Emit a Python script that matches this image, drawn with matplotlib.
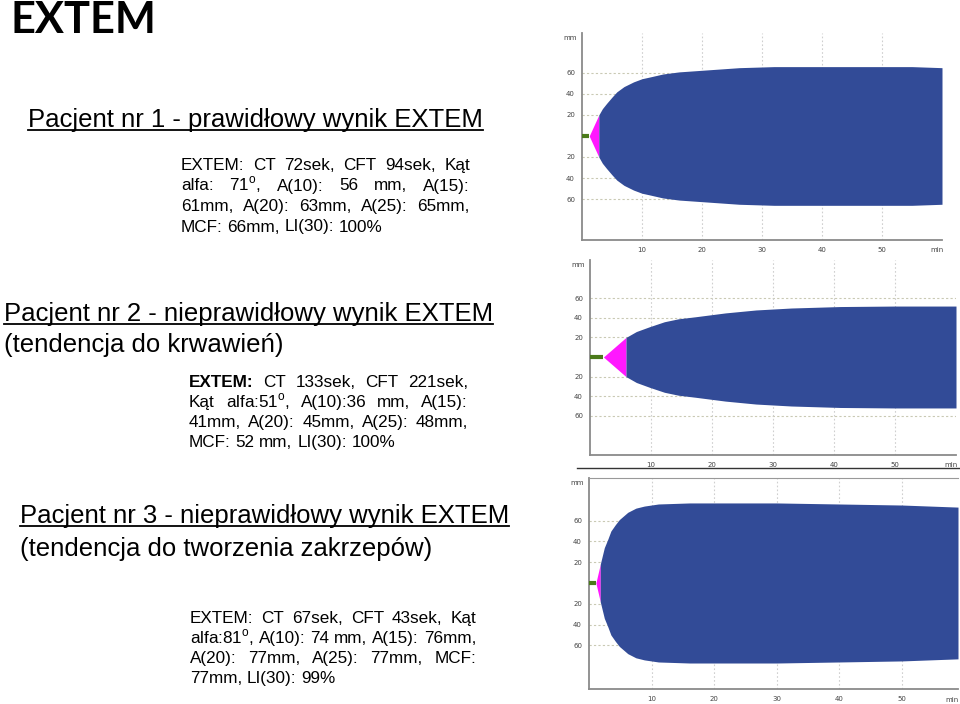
import matplotlib
matplotlib.use("Agg")
import numpy as np
import matplotlib.pyplot as plt

plt.rcParams["mathtext.fontset"] = "custom"
plt.rcParams["mathtext.rm"] = "Liberation Sans"

# --- chart data ---
# patient 1 - normal
p1_time = [0, 1.2, 2.8, 3.4, 4.1, 5.0, 5.8, 7.0, 8.6, 10, 11.2, 13.5, 16.2, 21.2, 26.2, 32, 45, 55, 60]
p1_amp = [0, 0, 20, 26, 31, 37, 42, 47, 51.5, 54.5, 56, 59, 61, 63, 65, 66, 66, 66, 65]
p1_ct, p1_pink_end = 1.2, 2.8

# patient 2 - bleeding tendency
p2_time = [0, 2.2, 5.9, 7.6, 9.8, 12.2, 14.5, 17.2, 22.2, 27.2, 33, 41, 50, 60]
p2_amp = [0, 0, 20, 26, 31, 36, 39, 41, 45, 48, 50, 51.5, 52, 52]
p2_ct, p2_pink_end = 2.2, 5.9

# patient 3 - clotting tendency
p3_time = [0, 1.1, 1.8, 2.45, 3.0, 3.5, 4.2, 4.85, 6.2, 7.5, 8.85, 11.1, 16.1, 21.1, 30, 40, 50, 59]
p3_amp = [0, 0, 18, 34, 42, 50, 56, 61, 68, 72, 74, 76, 77, 77, 77, 76, 75, 73]
p3_ct, p3_pink_end = 1.1, 1.8

x_ticks = [10, 20, 30, 40, 50]
y_ticks = [-60, -40, -20, 20, 40, 60]

BLUE = "#324b97"
PINK = "#ff18ff"
GREEN = "#4a7a1a"
BODY = "Liberation Sans"

fig = plt.figure(figsize=(9.6, 7.04), dpi=100)
bg = fig.add_axes([0, 0, 1, 1])
bg.set_xlim(0, 960)
bg.set_ylim(704, 0)
bg.axis("off")
renderer = fig.canvas.get_renderer()


def add_chart(box, time, amp, ct, pink_end, ylim, xmax=60, top_frame=False):
    left, top, right, bottom = box
    ax = fig.add_axes([left / 960, 1 - bottom / 704, (right - left) / 960, (bottom - top) / 704])
    t = np.array(time)
    a = np.array(amp)
    ax.fill_between(t, a, -a, where=(t >= ct) & (t <= pink_end), color=PINK, lw=0, zorder=3)
    ax.fill_between(t, a, -a, where=t >= pink_end, color=BLUE, lw=0, zorder=3)
    ax.plot([0, ct], [0, 0], color=GREEN, lw=3, zorder=4, solid_capstyle="butt")
    for y in y_ticks:
        ax.axhline(y, color="#c9c9b4", lw=0.8, ls=(0, (2, 2)), zorder=1)
    for x in x_ticks:
        ax.axvline(x, color="#cfcfcf", lw=0.8, ls=(0, (1.5, 2)), zorder=1)
    ax.set_xlim(0, xmax)
    ax.set_ylim(*ylim)
    ax.set_xticks(x_ticks)
    ax.set_yticks(y_ticks)
    ax.set_yticklabels([str(abs(v)) for v in y_ticks])
    ax.tick_params(length=0, labelsize=5, colors="#444444", pad=5)
    for s in ["right", "top"]:
        ax.spines[s].set_visible(False)
    if top_frame:
        ax.spines["top"].set_visible(True)
        ax.spines["top"].set_color("#999999")
    for s in ["left", "bottom"]:
        ax.spines[s].set_color("#8a8a8a")
        ax.spines[s].set_linewidth(1.3)
    ax.text(-0.015, 0.975, "mm", transform=ax.transAxes, ha="right", va="center",
            fontsize=5, color="#444444")
    ax.text(0.985, -0.05, "min", transform=ax.transAxes, ha="center", va="center",
            fontsize=5, color="#444444")
    ax.set_facecolor("white")
    return ax


add_chart((582, 33, 942, 240), p1_time, p1_amp, p1_ct, p1_pink_end, (-99, 98))
add_chart((590, 260, 956, 455), p2_time, p2_amp, p2_ct, p2_pink_end, (-100, 99))
add_chart((589, 478, 958, 689), p3_time, p3_amp, p3_ct, p3_pink_end, (-102, 101),
          xmax=59, top_frame=True)
bg.plot([577, 960], [468, 468], color="#333333", lw=1)


def heading(text, x, y, size, underline=False):
    t = bg.text(x, y, text, fontsize=size, family=BODY, va="baseline", ha="left")
    if underline:
        bb = t.get_window_extent(renderer)
        bg.plot([bb.x0, bb.x1], [y + 3, y + 3], color="black", lw=1.3)


def justified(words, x0, x1, y, size, last=False):
    texts = []
    for w in words:
        weight = "normal"
        if w.startswith("*"):
            w = w[1:]
            weight = "bold"
        texts.append(bg.text(x0, y, w, fontsize=size, family=BODY, weight=weight,
                             va="baseline", ha="left"))
    widths = [t.get_window_extent(renderer).width for t in texts]
    if last or len(words) == 1:
        gap = 0.278 * size * 100 / 72
    else:
        gap = (x1 - x0 - sum(widths)) / (len(words) - 1)
    x = x0
    for t, w in zip(texts, widths):
        t.set_x(x)
        x += w + gap


def paragraph(lines, x0, x1, y0, step, size):
    for i, line in enumerate(lines):
        justified(line.split(" "), x0, x1, y0 + i * step, size, last=(i == len(lines) - 1))


bg.text(11, 33, "EXTEM", fontsize=31.2, family="Lato", weight="bold", va="baseline")

BS = 12.3
HS = 18.5
SUP = r"$^{\mathrm{o}}$"

heading("Pacjent nr 1 - prawidłowy wynik EXTEM", 28, 127, HS, underline=True)
paragraph(["EXTEM: CT 72sek, CFT 94sek, Kąt",
           "alfa: 71" + SUP + ", A(10): 56 mm, A(15):",
           "61mm, A(20): 63mm, A(25): 65mm,",
           "MCF: 66mm, LI(30): 100%"], 181, 470, 170, 20.5, BS)

heading("Pacjent nr 2 - nieprawidłowy wynik EXTEM", 4, 321, HS, underline=True)
heading("(tendencja do krwawień)", 4, 352, HS)
paragraph(["*EXTEM: CT 133sek, CFT 221sek,",
           "Kąt alfa:51" + SUP + ", A(10):36 mm, A(15):",
           "41mm, A(20): 45mm, A(25): 48mm,",
           "MCF: 52 mm, LI(30): 100%"], 189, 468, 387, 20, BS)

heading("Pacjent nr 3 - nieprawidłowy wynik EXTEM", 20, 523, HS, underline=True)
heading("(tendencja do tworzenia zakrzepów)", 20, 556, HS)
paragraph(["EXTEM: CT 67sek, CFT 43sek, Kąt",
           "alfa:81" + SUP + ", A(10): 74 mm, A(15): 76mm,",
           "A(20): 77mm, A(25): 77mm, MCF:",
           "77mm, LI(30): 99%"], 190, 476, 623, 20, BS)

fig.savefig("out.png", dpi=100)
